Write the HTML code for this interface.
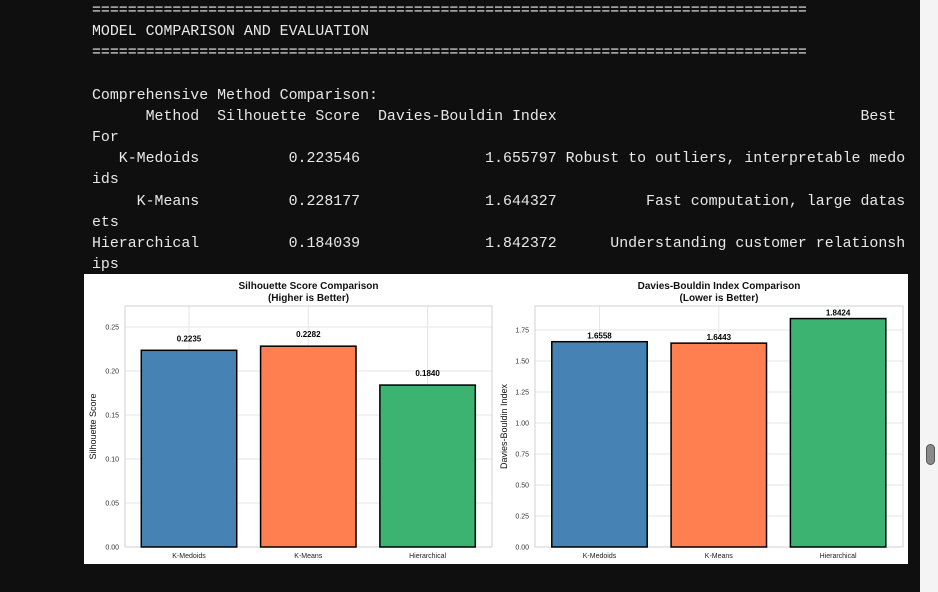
<!DOCTYPE html>
<html><head><meta charset="utf-8">
<style>
html,body{margin:0;padding:0;width:938px;height:592px;overflow:hidden;background:#0f0f0f;}
pre{position:absolute;left:92px;top:1px;margin:0;font-family:"Liberation Mono",monospace;font-size:14.9px;line-height:21.17px;color:#e8e8e8;}
#strip{position:absolute;left:920px;top:0;width:18px;height:592px;background:#f4f4f4;}
#thumb{position:absolute;left:926px;top:444px;width:9px;height:21px;border-radius:5px;background:#8a8a8a;border:1px solid #555;box-sizing:border-box;}
#plot{position:absolute;left:84px;top:274px;width:824px;height:290px;background:#fff;}
svg{position:absolute;left:0;top:0;}
text{font-family:"Liberation Sans",Arial,sans-serif;}
</style></head><body>
<pre>================================================================================
MODEL COMPARISON AND EVALUATION
================================================================================

Comprehensive Method Comparison:
      Method  Silhouette Score  Davies-Bouldin Index                                  Best
For
   K-Medoids          0.223546              1.655797 Robust to outliers, interpretable medo
ids
     K-Means          0.228177              1.644327          Fast computation, large datas
ets
Hierarchical          0.184039              1.842372      Understanding customer relationsh
ips</pre>
<div id="strip"></div>
<div id="thumb"></div>
<div id="plot"></div>
<svg id="chart" width="938" height="592"></svg>
<script>
const categories = ["K-Medoids", "K-Means", "Hierarchical"];
const silhouetteValues = [0.2235, 0.2282, 0.1840];
const dbValues = [1.6558, 1.6443, 1.8424];
const silTicks = [0, 0.05, 0.10, 0.15, 0.20, 0.25];
const dbTicks = [0, 0.25, 0.5, 0.75, 1.0, 1.25, 1.5, 1.75];
const colors = ["#4682b4", "#ff7f50", "#3cb371"];

const NS = "http://www.w3.org/2000/svg";
const svg = document.getElementById("chart");
function mk(tag, attrs, parent){const e=document.createElementNS(NS,tag);for(const k in attrs)e.setAttribute(k,attrs[k]);(parent||svg).appendChild(e);return e;}

function panel(cfg){
  const {left,right,top,bottom,ymax,values,ticks,dec,title1,title2,ylabel,labelOff,cx0} = cfg;
  const y = v => bottom - v/ymax*(bottom-top);
  const unit = 119.3;
  const x = i => cx0 + i*unit;
  const g = mk("g",{});
  
  
  ticks.forEach(t=>{
    const l = mk("line",{x1:left,x2:right,y1:y(t),y2:y(t),stroke:"#e6e6e6","stroke-width":1},g);
    
    
    const tx = mk("text",{x:left-6,y:y(t)+2.5,"font-size":7,"text-anchor":"end",fill:"#333"},g);
    tx.textContent = t.toFixed(2);
    
    
  });
  categories.forEach((c,i)=>{
    const l = mk("line",{x1:x(i),x2:x(i),y1:top,y2:bottom,stroke:"#e6e6e6","stroke-width":1},g);
    
    
  });
  const fr = mk("rect",{x:left,y:top,width:right-left,height:bottom-top,fill:"none",stroke:"#d0d0d0","stroke-width":1},g);
  
  
  categories.forEach((c,i)=>{
    const w = unit*0.8;
    const b = mk("rect",{x:x(i)-w/2,y:y(values[i]),width:w,height:bottom-y(values[i]),fill:colors[i],stroke:"#000","stroke-width":1.5},g);
    
    
    const vl = mk("text",{x:x(i),y:y(values[i])-labelOff,"font-size":8,"font-weight":"bold","text-anchor":"middle",fill:"#000"},g);
    vl.textContent = values[i].toFixed(dec);
    
    
    const xl = mk("text",{x:x(i),y:bottom+11,"font-size":7,"text-anchor":"middle",fill:"#222"},g);
    xl.textContent = c;
    
    
  });
  const mid=(left+right)/2;
  const t1 = mk("text",{x:mid,y:top-17,"font-size":10,"font-weight":"bold","text-anchor":"middle",fill:"#111"},g);
  t1.textContent = title1;
  
  
  const t2 = mk("text",{x:mid,y:top-5,"font-size":10,"font-weight":"bold","text-anchor":"middle",fill:"#111"},g);
  t2.textContent = title2;
  
  
  const yl = mk("text",{x:0,y:0,"font-size":9,"text-anchor":"middle",fill:"#111",transform:`translate(${cfg.ylx},${(top+bottom)/2}) rotate(-90)`},g);
  yl.textContent = ylabel;
  
  
}

panel({name:"silhouette-chart",left:125,right:492,top:306,bottom:547,ymax:Math.max(...silhouetteValues)*1.2,values:silhouetteValues,ticks:silTicks,dec:4,
  title1:"Silhouette Score Comparison",title2:"(Higher is Better)",ylabel:"Silhouette Score",labelOff:9,cx0:189,ylx:96});
panel({name:"davies-bouldin-chart",left:535,right:903,top:306,bottom:547,ymax:Math.max(...dbValues)*1.055,values:dbValues,ticks:dbTicks,dec:4,
  title1:"Davies-Bouldin Index Comparison",title2:"(Lower is Better)",ylabel:"Davies-Bouldin Index",labelOff:3,cx0:599.5,ylx:507});
</script>
</body></html>
